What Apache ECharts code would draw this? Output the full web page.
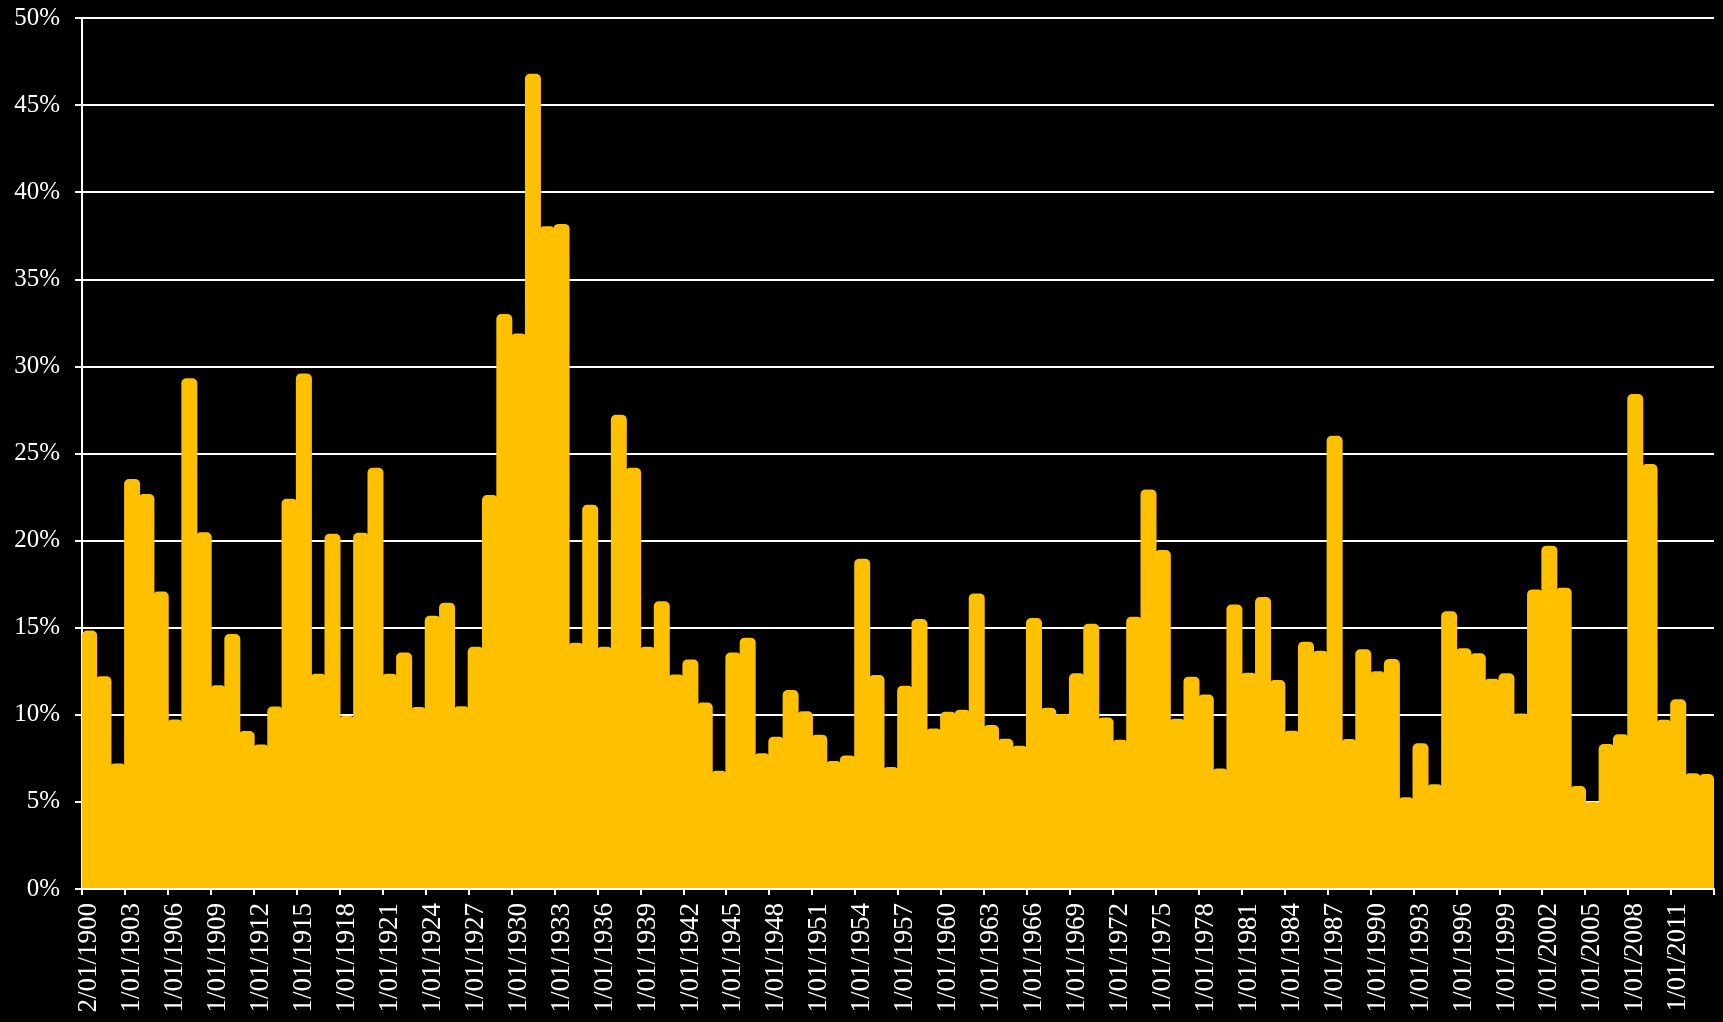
<!DOCTYPE html>
<html>
<head>
<meta charset="utf-8">
<script src="https://cdn.jsdelivr.net/npm/echarts@6/dist/echarts.min.js"></script>
<style>
  html, body { margin: 0; padding: 0; background: #000; }
  #chart { width: 1723px; height: 1022px; }
</style>
</head>
<body>
<div id="chart"></div>
<script>
// Category labels (one per year, 1900–2013)
const categories = [
  "2/01/1900","1/01/1901","1/01/1902","1/01/1903","1/01/1904","1/01/1905","1/01/1906","1/01/1907","1/01/1908","1/01/1909",
  "1/01/1910","1/01/1911","1/01/1912","1/01/1913","1/01/1914","1/01/1915","1/01/1916","1/01/1917","1/01/1918","1/01/1919",
  "1/01/1920","1/01/1921","1/01/1922","1/01/1923","1/01/1924","1/01/1925","1/01/1926","1/01/1927","1/01/1928","1/01/1929",
  "1/01/1930","1/01/1931","1/01/1932","1/01/1933","1/01/1934","1/01/1935","1/01/1936","1/01/1937","1/01/1938","1/01/1939",
  "1/01/1940","1/01/1941","1/01/1942","1/01/1943","1/01/1944","1/01/1945","1/01/1946","1/01/1947","1/01/1948","1/01/1949",
  "1/01/1950","1/01/1951","1/01/1952","1/01/1953","1/01/1954","1/01/1955","1/01/1956","1/01/1957","1/01/1958","1/01/1959",
  "1/01/1960","1/01/1961","1/01/1962","1/01/1963","1/01/1964","1/01/1965","1/01/1966","1/01/1967","1/01/1968","1/01/1969",
  "1/01/1970","1/01/1971","1/01/1972","1/01/1973","1/01/1974","1/01/1975","1/01/1976","1/01/1977","1/01/1978","1/01/1979",
  "1/01/1980","1/01/1981","1/01/1982","1/01/1983","1/01/1984","1/01/1985","1/01/1986","1/01/1987","1/01/1988","1/01/1989",
  "1/01/1990","1/01/1991","1/01/1992","1/01/1993","1/01/1994","1/01/1995","1/01/1996","1/01/1997","1/01/1998","1/01/1999",
  "1/01/2000","1/01/2001","1/01/2002","1/01/2003","1/01/2004","1/01/2005","1/01/2006","1/01/2007","1/01/2008","1/01/2009",
  "1/01/2010","1/01/2011","1/01/2012","1/01/2013"
];

// Values in percent
const values = [
  14.84, 12.22, 7.21, 23.53, 22.67, 17.08, 9.73, 29.32, 20.48, 11.69,
  14.64, 9.07, 8.29, 10.48, 22.40, 29.59, 12.35, 20.39, 9.93, 20.45,
  24.18, 12.35, 13.57, 10.45, 15.68, 16.43, 10.49, 13.91, 22.62, 33.01,
  31.89, 46.80, 38.05, 38.18, 14.13, 22.06, 13.91, 27.22, 24.18, 13.90,
  16.52, 12.32, 13.18, 10.70, 6.79, 13.57, 14.43, 7.79, 8.74, 11.42,
  10.20, 8.86, 7.35, 7.67, 18.96, 12.28, 7.00, 11.67, 15.50, 9.21,
  10.18, 10.29, 16.97, 9.41, 8.63, 8.23, 15.56, 10.41, 10.05, 12.38,
  15.23, 9.84, 8.57, 15.63, 22.94, 19.46, 9.78, 12.19, 11.17, 6.92,
  16.33, 12.42, 16.76, 12.00, 9.09, 14.20, 13.68, 26.02, 8.61, 13.76,
  12.50, 13.20, 5.26, 8.36, 6.01, 15.94, 13.82, 13.53, 12.07, 12.38,
  10.08, 17.20, 19.71, 17.30, 5.91, 4.99, 8.32, 8.88, 28.42, 24.40,
  9.72, 10.89, 6.65, 6.60
];

// Y axis ticks (percent)
const yMin = 0;
const yMax = 50;
const yStep = 5;

const FONT = "'Liberation Serif', 'DejaVu Serif', serif";

const chart = echarts.init(document.getElementById('chart'), null, { renderer: 'canvas' });
chart.setOption({
  backgroundColor: '#000000',
  animation: false,
  grid: { left: 82, right: 9, top: 18, bottom: 133 },
  xAxis: {
    type: 'category',
    data: categories,
    boundaryGap: true,
    z: 5,
    axisLine: { show: true, lineStyle: { color: '#ffffff', width: 2 } },
    axisTick: {
      show: true, interval: 2, alignWithLabel: false, length: 6,
      lineStyle: { color: '#ffffff', width: 2 }
    },
    axisLabel: {
      show: true, interval: 2, rotate: 90, margin: 14,
      color: '#ffffff', fontFamily: FONT, fontSize: 27
    },
    splitLine: { show: false }
  },
  yAxis: {
    type: 'value',
    min: yMin, max: yMax, interval: yStep,
    axisLine: { show: true, lineStyle: { color: '#ffffff', width: 2 } },
    axisTick: { show: true, length: 7, lineStyle: { color: '#ffffff', width: 2 } },
    axisLabel: {
      color: '#ffffff', fontFamily: FONT, fontSize: 25, margin: 22,
      formatter: '{value}%'
    },
    splitLine: { show: true, lineStyle: { color: '#ffffff', width: 2 } }
  },
  series: [{
    type: 'bar',
    data: values,
    barWidth: 16,
    clip: true,
    itemStyle: {
      color: '#FFC000',
      borderWidth: 0,
      borderRadius: [5, 5, 0, 0]
    }
  }]
});
</script>
</body>
</html>
